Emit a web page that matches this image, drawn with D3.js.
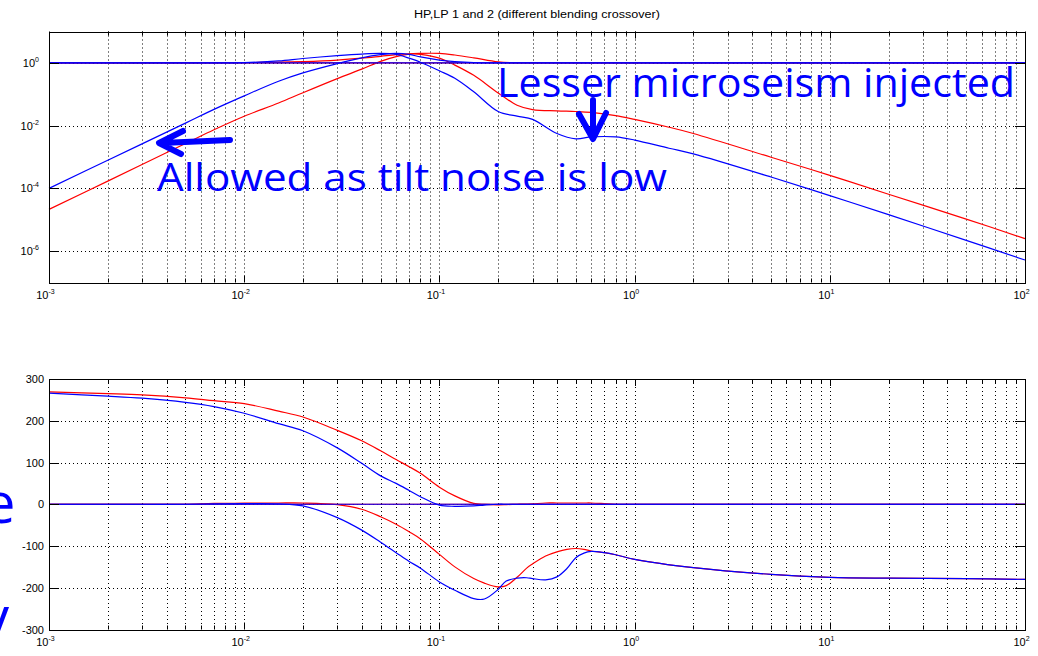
<!DOCTYPE html>
<html>
<head>
<meta charset="utf-8">
<script src="https://cdn.jsdelivr.net/npm/d3@7"></script>
<style>
  body { margin: 0; background: #fff; }
  svg text { font-family: "Liberation Sans", Arial, sans-serif; }
  .note { font-family: "Open Sans", "DejaVu Sans", sans-serif; fill: #0000ff; }
</style>
</head>
<body>
<svg id="chart" width="1038" height="656"></svg>
<script>
const width = 1038;
const height = 656;

// magnitude panel (Hz / |H|)
const freqMag = [0.001, 0.002, 0.005, 0.007, 0.01, 0.015, 0.02, 0.03, 0.04, 0.05, 0.06, 0.07, 0.08, 0.1, 0.12, 0.15,
                 0.2, 0.25, 0.3, 0.4, 0.5, 0.6, 0.8, 1, 1.5, 2, 5, 10, 20, 50, 100];
const magHP1 = [1e-4, 7.9e-4, 0.012, 0.033, 0.089, 0.26, 0.48, 0.95, 1.45, 1.82, 2.0, 1.86, 1.55, 1.23, 1.1, 1.02,
                1, 1, 1, 1, 1, 1, 1, 1, 1, 1, 1, 1, 1, 1, 1];
const magLP1 = [1, 1, 1, 1, 1.02, 1.15, 1.38, 1.7, 1.91, 2.0, 1.86, 1.41, 1.05, 0.56, 0.324, 0.12,
                0.0282, 0.02, 0.0158, 0.0056, 0.0038, 0.00437, 0.00437, 0.00347, 0.0019, 0.00126, 2.3e-4, 5.9e-5, 1.45e-5, 2.2e-6, 5.2e-7];
const magHP2 = [2.14e-5, 1.7e-4, 2.69e-3, 7.4e-3, 0.02, 0.0525, 0.112, 0.316, 0.631, 1.12, 1.585, 1.905, 2.0, 2.0, 1.78, 1.445,
                1.07, 1, 1, 1, 1, 1, 1, 1, 1, 1, 1, 1, 1, 1, 1];
const magLP2 = [1, 1, 1, 1, 1.02, 1.05, 1.1, 1.23, 1.41, 1.62, 1.82, 1.95, 1.86, 1.41, 0.85, 0.4,
                0.11, 0.0447, 0.0324, 0.0295, 0.0282, 0.0263, 0.0209, 0.0158, 0.0089, 0.0056, 9.8e-4, 2.6e-4, 6.5e-5, 1.05e-5, 2.5e-6];

// phase panel (Hz / degrees)
const freqPhase = [0.001, 0.002, 0.003, 0.005, 0.007, 0.01, 0.015, 0.02, 0.03, 0.04, 0.05, 0.06, 0.07, 0.08, 0.1, 0.12, 0.15, 0.17, 0.2,
                   0.22, 0.25, 0.28, 0.3, 0.35, 0.4, 0.45, 0.5, 0.55, 0.6, 0.7, 0.8, 1, 2, 5, 10, 20, 50, 100];
const phaseHP1 = [266, 259, 254, 244, 234, 218, 193, 176, 135, 98, 68, 50, 33, 18, -2, -5, -4, -2, 0,
                  0, 0, 0, 0, 0, 0, 0, 0, 0, 0, 0, 0, 0, 0, 0, 0, 0, 0, 0];
const phaseLP1 = [0, 0, 0, 0, 1, 1.5, 1, -4, -32, -62, -91, -116, -137, -153, -186, -206, -226, -227, -204,
                  -184, -177, -176, -178, -181, -174, -154, -128, -117, -113, -116, -121, -132, -152, -168, -175, -177, -178, -180];
const phaseHP2 = [269, 265, 262, 255, 248, 241, 223, 209, 177, 152, 128, 107, 90, 74, 41, 20, 2, -0.5, -1.5,
                  -1, 0, 0.5, 1, 3, 3, 3, 3, 3, 3, 1.5, 0, 0, 0, 0, 0, 0, 0, 0];
const phaseLP2 = [0, 0, 0, 0, 2, 2.5, 3, 3, -1, -12, -30, -48, -66, -83, -120, -150, -178, -189, -198,
                  -195, -175, -153, -143, -124, -114, -108, -106, -108, -112, -116, -121, -132, -152, -168, -175, -177, -178, -180];

// HP + LP sums
const sumFreq = [0.001, 100];
const sumMag = [1, 1];
const sumPhase = [0, 0];

const freqDecades = [1e-3, 1e-2, 1e-1, 1, 10, 100];
const freqDecadeExp = ["-3", "-2", "-1", "0", "1", "2"];
const magTicks = [1e-6, 1e-4, 1e-2, 1];
const magTickExp = ["-6", "-4", "-2", "0"];
const phaseTicks = [-300, -200, -100, 0, 100, 200, 300];

const left = 49, right = 1025;
const magTop = 31.5, magBottom = 282.5;
const phTop = 379, phBottom = 629.5;

const svg = d3.select("#chart");

const x = d3.scaleLog().domain([1e-3, 1e2]).range([left, right]);
const yMag = d3.scaleLog().domain([1e-7, 1e1]).range([magBottom, magTop]);
const yPh = d3.scaleLinear().domain([-300, 300]).range([phBottom, phTop]);

// all 1..9 x decade ticks
const xTicks = [];
freqDecades.slice(0, -1).forEach(d => { for (let k = 1; k < 10; k++) xTicks.push(k * d); });
xTicks.push(100);
const isMajor = v => freqDecades.some(d => Math.abs(v / d - 1) < 1e-9);

const px = v => Math.round(v) + 0.5;

function panel(y, top, bottom, yVals) {
    const g = svg.append("g");
    // dotted grid
    g.selectAll(".vg").data(xTicks.slice(1, -1)).join("line")
        .attr("x1", d => px(x(d))).attr("x2", d => px(x(d)))
        .attr("y1", top).attr("y2", bottom)
        .attr("stroke", "#000").attr("stroke-dasharray", "1,3");
    g.selectAll(".hg").data(yVals.filter(v => y(v) > top + 1 && y(v) < bottom - 1)).join("line")
        .attr("x1", left).attr("x2", right)
        .attr("y1", d => px(y(d))).attr("y2", d => px(y(d)))
        .attr("stroke", "#000").attr("stroke-dasharray", "1,3");
    return g;
}

function frame(y, top, bottom, yVals) {
    const g = svg.append("g").attr("stroke", "#000").attr("fill", "none");
    g.append("rect").attr("x", left + 0.5).attr("y", Math.round(top) + 0.5)
        .attr("width", right - left).attr("height", Math.round(bottom) - Math.round(top));
    xTicks.forEach(v => {
        const len = isMajor(v) ? 7 : 4;
        const xx = px(x(v));
        g.append("line").attr("x1", xx).attr("x2", xx).attr("y1", bottom).attr("y2", bottom - len);
        g.append("line").attr("x1", xx).attr("x2", xx).attr("y1", top).attr("y2", top + len);
    });
    yVals.forEach(v => {
        const yy = px(y(v));
        g.append("line").attr("x1", left).attr("x2", left + 10).attr("y1", yy).attr("y2", yy);
        g.append("line").attr("x1", right).attr("x2", right - 10).attr("y1", yy).attr("y2", yy);
    });
}

function powerLabel(xPos, yPos, exp, anchor) {
    const t = svg.append("text").attr("x", xPos).attr("y", yPos)
        .attr("text-anchor", anchor).attr("font-size", 11).attr("fill", "#000");
    t.append("tspan").text("10");
    t.append("tspan").attr("dy", -5).attr("font-size", 7).text(exp);
}

function curve(y, freqs, vals, color) {
    const line = d3.line()
        .x((d, i) => x(freqs[i]))
        .y(d => y(d))
        .curve(d3.curveCatmullRom.alpha(0.5));
    svg.append("path").datum(vals).attr("d", line)
        .attr("fill", "none").attr("stroke", color).attr("stroke-width", 1.2);
}

// title
svg.append("text").attr("x", 537).attr("y", 18).attr("text-anchor", "middle")
    .attr("font-size", 10).attr("textLength", 246).attr("lengthAdjust", "spacingAndGlyphs")
    .text("HP,LP 1 and 2 (different blending crossover)");

// magnitude panel
panel(yMag, magTop, magBottom, magTicks);
curve(yMag, sumFreq, sumMag, "#ff0000");
curve(yMag, freqMag, magHP2, "#ff0000");
curve(yMag, freqMag, magLP2, "#ff0000");
curve(yMag, freqMag, magHP1, "#0000ff");
curve(yMag, freqMag, magLP1, "#0000ff");
curve(yMag, sumFreq, sumMag, "#0000ff");
frame(yMag, magTop, magBottom, magTicks);
magTicks.forEach((v, i) => powerLabel(39, yMag(v) + 4, magTickExp[i], "end"));
freqDecades.forEach((v, i) => powerLabel(x(v) - 3.5, 299, freqDecadeExp[i], "middle"));

// phase panel
panel(yPh, phTop, phBottom, phaseTicks);
curve(yPh, sumFreq, sumPhase, "#ff0000");
curve(yPh, freqPhase, phaseHP2, "#ff0000");
curve(yPh, freqPhase, phaseLP2, "#ff0000");
curve(yPh, freqPhase, phaseHP1, "#0000ff");
curve(yPh, freqPhase, phaseLP1, "#0000ff");
curve(yPh, sumFreq, sumPhase, "#0000ff");
frame(yPh, phTop, phBottom, phaseTicks);
phaseTicks.forEach(v => {
    svg.append("text").attr("x", 44).attr("y", yPh(v) + 4).attr("text-anchor", "end")
        .attr("font-size", 11).text(v);
});
freqDecades.forEach((v, i) => powerLabel(x(v) - 3.5, 646, freqDecadeExp[i], "middle"));

// annotations (the last two are cut off at the left edge, as in the source slide)
svg.append("text").attr("class", "note").attr("x", 497).attr("y", 97)
    .attr("font-size", 41).attr("textLength", 518).attr("lengthAdjust", "spacingAndGlyphs")
    .text("Lesser microseism injected");
svg.append("text").attr("class", "note").attr("x", 157).attr("y", 191)
    .attr("font-size", 39).attr("textLength", 510).attr("lengthAdjust", "spacingAndGlyphs")
    .text("Allowed as tilt noise is low");
svg.append("text").attr("class", "note").attr("x", -16).attr("y", 523).attr("font-size", 56).text("e");
svg.append("text").attr("class", "note").attr("x", -19).attr("y", 637).attr("font-size", 56).text("y");

const arrows = svg.append("g").attr("stroke", "#0000ff").attr("stroke-width", 6)
    .attr("fill", "none").attr("stroke-linecap", "round").attr("stroke-linejoin", "round");
arrows.append("path").attr("d", "M230,140 L162,143 M183,131 L159,143 L181,154");
arrows.append("path").attr("d", "M593,100 L593,137 M579,114 L593,139 L606,113");
</script>
</body>
</html>
